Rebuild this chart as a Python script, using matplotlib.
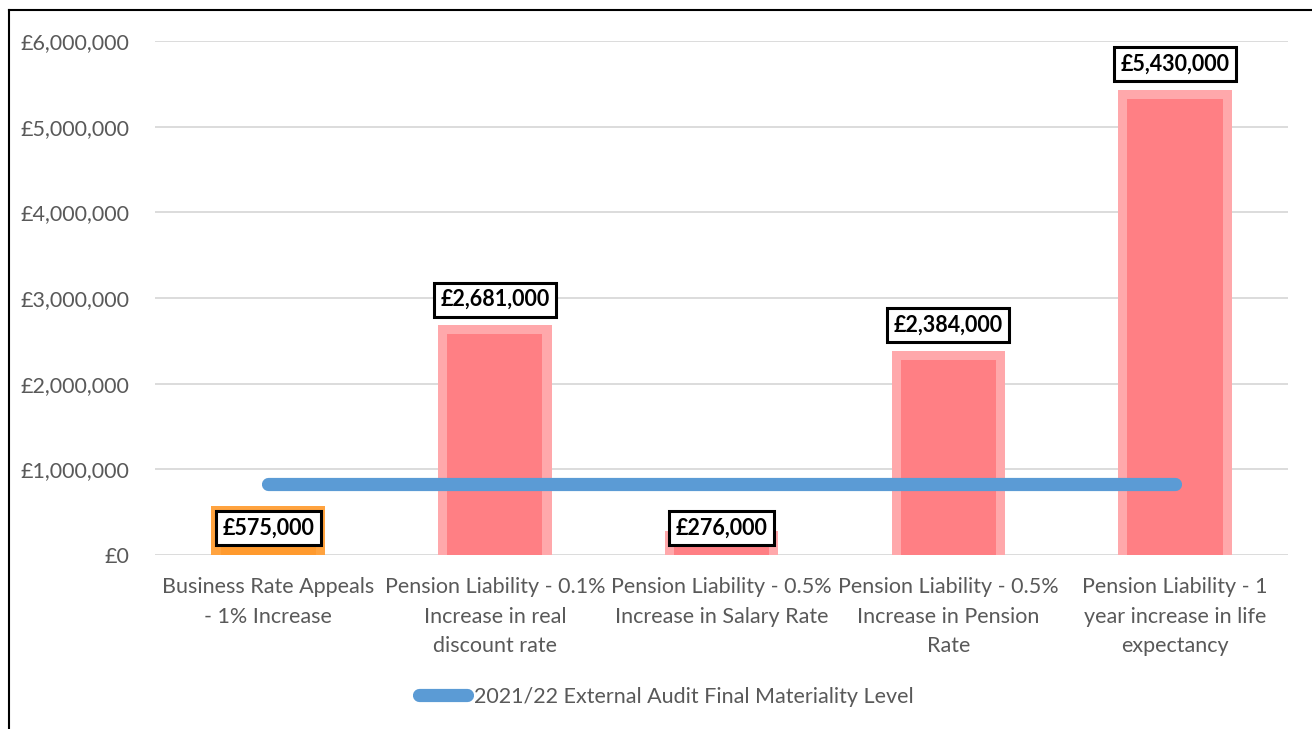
import numpy as np
import matplotlib
matplotlib.use("Agg")
import matplotlib.pyplot as plt
from matplotlib.lines import Line2D
from matplotlib.ticker import FuncFormatter

categories = ["Business Rate Appeals\n- 1% Increase",
              "Pension Liability - 0.1%\nIncrease in real\ndiscount rate",
              "Pension Liability - 0.5%\nIncrease in Salary Rate",
              "Pension Liability - 0.5%\nIncrease in Pension\nRate",
              "Pension Liability - 1\nyear increase in life\nexpectancy"]
values = [575000, 2681000, 276000, 2384000, 5430000]
materiality = [830000, 830000, 830000, 830000, 830000]
legend_label = "2021/22 External Audit Final Materiality Level"

plt.rcParams['font.family'] = ['Lato', 'DejaVu Sans']

fig = plt.figure(figsize=(13.12, 7.29), dpi=100)
ax = fig.add_axes([0.118, 0.2387, 0.864, 0.705])

x = np.arange(len(categories))
outer = ['#FFA33F'] + ['#FFA8AB'] * 4
inner = ['#FF9A2E'] + ['#FF7F84'] * 4
# bevel look: light outer bar with a darker, slightly smaller inner bar
ax.bar(x, values, width=0.5, color=outer, zorder=2)
ax.bar(x, [v - 105000 for v in values], width=0.42, color=inner, zorder=2)

ax.plot(x, materiality, color='#5B9BD5', lw=9.5, solid_capstyle='round',
        zorder=3, label=legend_label)

for xi, v in zip(x, values):
    ly = v + 300000 if v > 1000000 else 315000
    ax.text(xi, ly, "£{:,}".format(v), ha='center', va='center',
            fontsize=15.5, fontweight='bold', color='black', zorder=5,
            bbox=dict(boxstyle='square,pad=0.3', fc='white', ec='black', lw=2.2))

ax.set_ylim(0, 6000000)
ax.set_xlim(-0.5, 4.5)
ax.set_yticks(np.arange(0, 6000001, 1000000))
ax.yaxis.set_major_formatter(FuncFormatter(lambda v, p: "£{:,.0f}".format(v)))
ax.set_xticks(x)
ax.set_xticklabels(categories, fontsize=15.5, color='#595959', linespacing=1.6)
ax.tick_params(axis='y', labelsize=15.5, labelcolor='#595959', length=0, pad=18)
ax.tick_params(axis='x', length=0, pad=16)
ax.grid(axis='y', color='#D9D9D9', lw=1.3, zorder=0)
for s in ax.spines.values():
    s.set_visible(False)

fig.legend(handles=[Line2D([0], [0], color='#5B9BD5', lw=9.5, solid_capstyle='round')],
           labels=[legend_label], loc='center', bbox_to_anchor=(0.508, 0.044),
           frameon=False, fontsize=15.5, labelcolor='#595959',
           handlelength=2.2, handletextpad=0.35)

fig.add_artist(Line2D([9 / 1312, 9 / 1312], [0, 1 - 10 / 729], color='black', lw=1.5))
fig.add_artist(Line2D([9 / 1312, 1], [1 - 10 / 729, 1 - 10 / 729], color='black', lw=1.5))

fig.savefig("out.png", dpi=100)
